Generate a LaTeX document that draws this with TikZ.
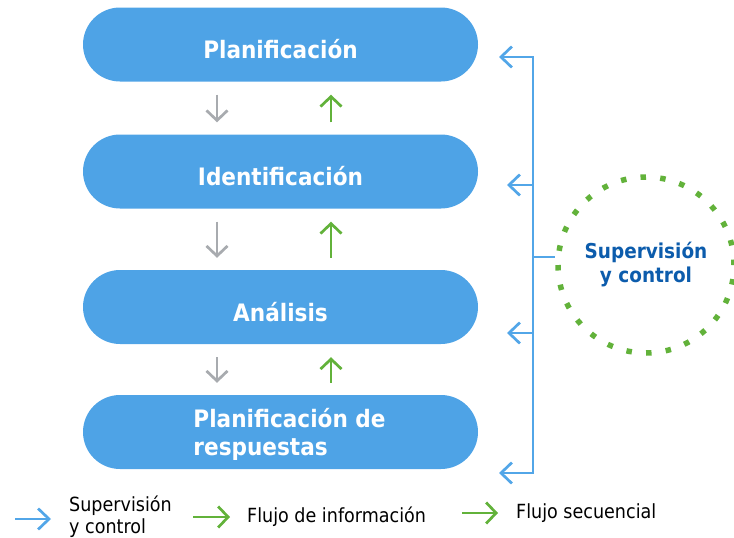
\documentclass[tikz,border=0pt]{standalone}
\usepackage{fontspec}
\setmainfont[FakeStretch=0.9]{DejaVu Sans}
\usetikzlibrary{arrows.meta,positioning}
\definecolor{boxblue}{RGB}{78,163,230}
\definecolor{ctlblue}{RGB}{82,166,232}
\definecolor{darkblue}{RGB}{12,92,172}
\definecolor{flowgreen}{RGB}{98,178,58}
\definecolor{flowgray}{RGB}{168,171,175}

\begin{document}
\begin{tikzpicture}[x=1pt,y=-1pt,
 stage/.style={fill=boxblue,rounded corners=37pt,minimum width=395pt,minimum height=74pt,text=white,align=left,text depth=0pt,font=\fontsize{24}{28}\selectfont\bfseries},
 oneline/.style={text height=28.5pt},
 ctl/.style={-{Straight Barb[length=11pt,width=21pt]},line width=2.7pt,ctlblue},
 seq/.style={-{Straight Barb[length=10pt,width=21pt]},line width=2.7pt,flowgray},
 info/.style={-{Straight Barb[length=10pt,width=21pt]},line width=2.7pt,flowgreen},
 leg/.style={anchor=west,align=left,inner sep=0pt,font=\fontsize{19.5}{22}\selectfont}]
\useasboundingbox (0,0) rectangle (734,538);
\node[stage,oneline] (plan) at (280.5,44.5) {Planificación};
\node[stage,oneline] (ident) at (280.5,171.5) {Identificación};
\node[stage,oneline] (anal) at (280.5,307) {Análisis};
\node[stage] (resp) at (280.5,432) {\hspace*{18pt}Planificación de\\\hspace*{18pt}respuestas};
% flujo entre etapas
\foreach \a/\b in {plan/ident,ident/anal,anal/resp}{
 \draw[seq,shorten <=13pt,shorten >=12pt] ([xshift=-63.5pt]\a.south) -- ([xshift=-63.5pt]\b.north);
 \draw[info,shorten <=12pt,shorten >=13pt] ([xshift=50.5pt]\b.north) -- ([xshift=50.5pt]\a.south);
}
\node[circle,minimum size=176pt,draw=flowgreen,line width=5.5pt,dash pattern=on 5.5pt off 14.25pt,text=darkblue,align=center,font=\fontsize{20.5}{24}\selectfont\bfseries] (sup) at (646,265) {Supervisión\\y control};
% supervision y control
\coordinate (bkt1) at (533,57);
\coordinate (bkt2) at (533,185);
\coordinate (bkt3) at (533,257);
\coordinate (bkt4) at (533,333);
\coordinate (bkt5) at (533,473);
\draw[ctl,{Straight Barb[length=11pt,width=21pt]}-{Straight Barb[length=11pt,width=21pt]}] ([xshift=-34pt]bkt1) -- (bkt1) -- (bkt5) -- ([xshift=-34pt]bkt5);
\draw[ctl] (bkt2) -- ([xshift=-26pt]bkt2);
\draw[ctl] (bkt4) -- ([xshift=-26pt]bkt4);
\draw[ctl,-] (bkt3) -- (bkt3 -| sup.west);
% leyenda
\node[leg] (lsup) at (69,517) {Supervisión\\y control};
\node[leg] (linfo) at (247,517) {Flujo de información};
\node[leg] (lseq) at (516,513) {Flujo secuencial};
\draw[ctl] ([xshift=-54pt,yshift=-2pt]lsup.west) -- ([xshift=-18pt,yshift=-2pt]lsup.west);
\draw[info] ([xshift=-54pt]linfo.west) -- ([xshift=-17pt]linfo.west);
\draw[info] ([xshift=-54pt]lseq.west) -- ([xshift=-18pt]lseq.west);
\end{tikzpicture}
\end{document}
